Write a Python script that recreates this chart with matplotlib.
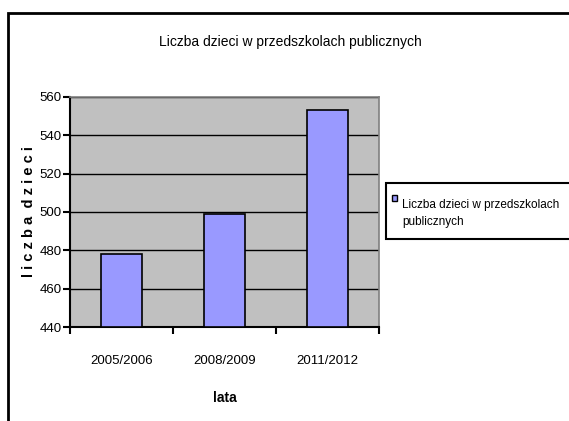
from matplotlib import pyplot as plt
from matplotlib.patches import Rectangle
import numpy as np

categories = ["2005/2006", "2008/2009", "2011/2012"]
values = [478, 499, 553]
series_name = "Liczba dzieci w przedszkolach\npublicznych"

plt.rcParams["font.family"] = ["Liberation Sans", "DejaVu Sans"]

fig = plt.figure(figsize=(5.69, 4.21), dpi=100)
ax = fig.add_axes([70 / 569, 1 - 327.3 / 421, 309 / 569, 230.6 / 421])

x = np.arange(len(categories))
ax.set_facecolor("#C0C0C0")
ax.bar(x, [v - 440 for v in values], 0.4, bottom=440, color="#9999FF",
       edgecolor="black", linewidth=1.2, zorder=3)

ax.set_xlim(-0.5, 2.5)
ax.set_ylim(440, 560)
ax.set_yticks(np.arange(440, 561, 20))
ax.yaxis.grid(True, color="black", linewidth=1.0, zorder=1)
ax.set_axisbelow(True)

# category ticks sit between bars
ax.set_xticks([-0.5, 0.5, 1.5, 2.5])
ax.set_xticklabels([])
ax.set_xticks(x, minor=True)
ax.set_xticklabels(categories, minor=True, fontsize=9.5)
ax.tick_params(axis="x", which="minor", length=0, pad=20)
ax.tick_params(axis="x", which="major", length=5, width=1.5, direction="out")
ax.tick_params(axis="y", length=5, width=1.5, direction="out", labelsize=9.5, pad=1)

for side in ("top", "right"):
    ax.spines[side].set_color("#808080")
    ax.spines[side].set_linewidth(1.2)
for side in ("left", "bottom"):
    ax.spines[side].set_color("black")
    ax.spines[side].set_linewidth(1.5)

ax.set_ylabel("l i c z b a  d z i e c i", fontsize=10.5, fontweight="bold")
ax.yaxis.set_label_coords(-0.11, 0.5)
ax.set_xlabel("lata", fontsize=10, fontweight="bold", labelpad=17)

fig.text(290 / 569, 1 - 42 / 421, "Liczba dzieci w przedszkolach publicznych",
         ha="center", va="center", fontsize=10)

# legend box, cut off on the right like the screenshot
fig.patches.append(Rectangle((386 / 569, 1 - 239 / 421), 0.5, 56 / 421,
                             transform=fig.transFigure, facecolor="white",
                             edgecolor="black", linewidth=1.5))
fig.patches.append(Rectangle((392 / 569, 1 - 201 / 421), 5 / 569, 6 / 421,
                             transform=fig.transFigure, facecolor="#9999FF",
                             edgecolor="black", linewidth=1.0))
fig.text(402 / 569, 1 - 199 / 421, series_name, ha="left", va="top",
         fontsize=8.5, linespacing=1.5, transform=fig.transFigure)

# outer chart frame, cut off on the right and bottom as in the screenshot
fig.patches.append(Rectangle((8 / 569, -0.1), 1.2, 1 - 13 / 421 + 0.1,
                             transform=fig.transFigure, fill=False,
                             edgecolor="black", linewidth=2.0))

fig.savefig("out.png", dpi=100)
